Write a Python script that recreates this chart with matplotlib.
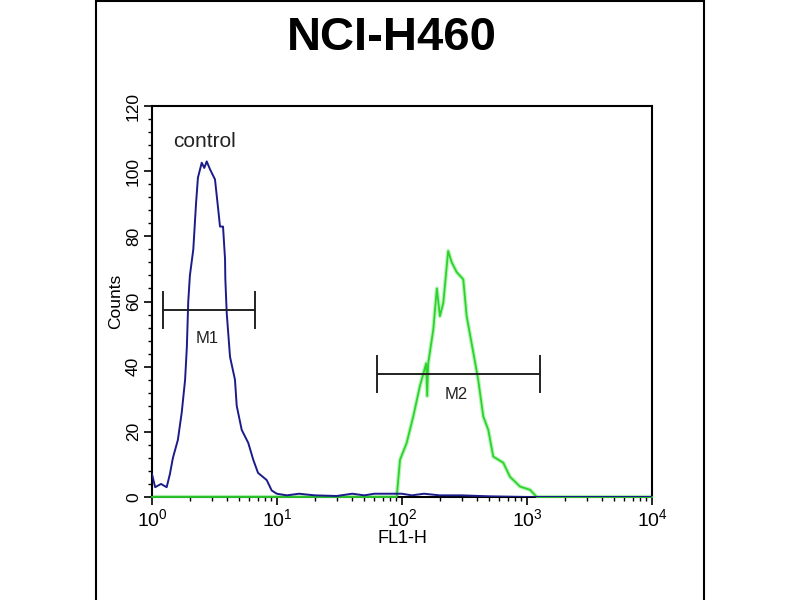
import matplotlib.pyplot as plt
import matplotlib.ticker as mticker
from matplotlib.patches import Rectangle

# ---------------- data ----------------
title = "NCI-H460"
x_label = "FL1-H"
y_label = "Counts"

# control histogram (blue)
control_fl = [1.0, 1.06, 1.18, 1.31, 1.39, 1.47, 1.61, 1.73, 1.84, 1.90, 1.95,
              2.01, 2.14, 2.25, 2.33, 2.50, 2.62, 2.74, 2.91, 3.05, 3.19, 3.37,
              3.50, 3.70, 3.84, 3.86, 3.96, 4.21, 4.61, 4.76, 5.22, 5.89, 6.46,
              7.05, 8.27, 9.07, 9.95, 12, 15, 20, 30, 40, 50, 60, 80, 100, 120,
              150, 200, 300, 500, 1000, 10000]
control_counts = [7, 3, 4, 3, 7, 12, 17.5, 26, 36, 46, 60,
                  68, 76, 90, 98, 102.6, 101, 103, 100.6, 99, 97.5, 89,
                  83, 83, 73, 67, 56.5, 43, 36, 28, 20.6, 16.6, 11.4,
                  7.4, 5.2, 2, 1, 0.5, 1, 0.5, 0.3, 1, 0.5, 1, 1, 1, 0.5,
                  1, 0.5, 0.5, 0.2, 0, 0]

# stained sample histogram (green)
sample_fl = [1.0, 90.7, 96.4, 109, 123, 139, 156, 159, 162, 178, 190, 201,
             214, 234, 250, 274, 309, 329, 372, 407, 447, 490, 537, 646,
             731, 879, 1057, 1197, 10000]
sample_counts = [0, 0, 11.4, 16.6, 24.7, 34, 41, 31, 41, 51.4, 64, 55.5,
                 59.6, 75.5, 72, 69, 66.8, 55.5, 44.3, 36, 24.7, 20.6, 12.4,
                 10.5, 6.2, 3.2, 2.2, 0, 0]

# marker gates: (label, start, end, level, label x, label y)
markers = [("M1", 1.23, 6.67, 57.5, 2.75, 48.5),
           ("M2", 62.8, 1271, 37.8, 274, 31.5)]

# ---------------- figure ----------------
plt.rcParams["font.family"] = ["Liberation Sans", "DejaVu Sans"]
fig = plt.figure(figsize=(8, 6), dpi=100)

# outer frame of the original image
fig.add_artist(Rectangle((0.12, -0.01), 0.76, 1.008, transform=fig.transFigure,
                         fill=False, lw=1.5, ec="black"))

ax = fig.add_axes([0.19, 0.1717, 0.625, 0.6516])
ax.set_xscale("log")
ax.set_xlim(1, 10000)
ax.set_ylim(0, 120)

ax.plot(sample_fl, sample_counts, color="#b8f5b8", lw=3, zorder=2)
ax.plot(sample_fl, sample_counts, color="#2ed22e", lw=1.3, zorder=3,
        clip_on=False)
ax.plot(control_fl, control_counts, color="#1b1b8a", lw=1.4, zorder=4)

for name, x0, x1, level, tx, ty in markers:
    ax.plot([x0, x1], [level, level], color="#222222", lw=1.4, zorder=5)
    for xe in (x0, x1):
        ax.plot([xe, xe], [level - 5.5, level + 5.5], color="#222222", lw=1.4,
                zorder=5)
    ax.text(tx, ty, name, ha="center", va="center", fontsize=12, color="#222222")

ax.text(2.65, 109, "control", ha="center", va="center", fontsize=15,
        color="#222222")

# ticks
ax.set_xticks([1, 10, 100, 1000, 10000])
ax.xaxis.set_major_formatter(mticker.FixedFormatter(
    [r"$\mathregular{10^{%d}}$" % i for i in range(5)]))
ax.xaxis.set_minor_locator(mticker.LogLocator(base=10, subs=range(2, 10)))
ax.xaxis.set_minor_formatter(mticker.NullFormatter())
ax.set_yticks(range(0, 121, 20))
ax.yaxis.set_minor_locator(mticker.MultipleLocator(4))
ax.tick_params(axis="both", which="major", direction="out", length=6, width=1.2,
               labelsize=14, pad=2)
ax.tick_params(axis="both", which="minor", direction="out", length=3, width=1)
ax.tick_params(axis="y", labelsize=12.5)
for lab in ax.get_yticklabels():
    lab.set_rotation(90)
    lab.set_va("center")

for s in ax.spines.values():
    s.set_linewidth(1.5)

ax.set_xlabel(x_label, fontsize=13, labelpad=0)
ax.set_ylabel(y_label, fontsize=12.5, labelpad=2)
fig.text(0.49, 0.937, title, ha="center", va="center", fontsize=34,
         fontweight="bold")

fig.savefig("out.png", dpi=100)
